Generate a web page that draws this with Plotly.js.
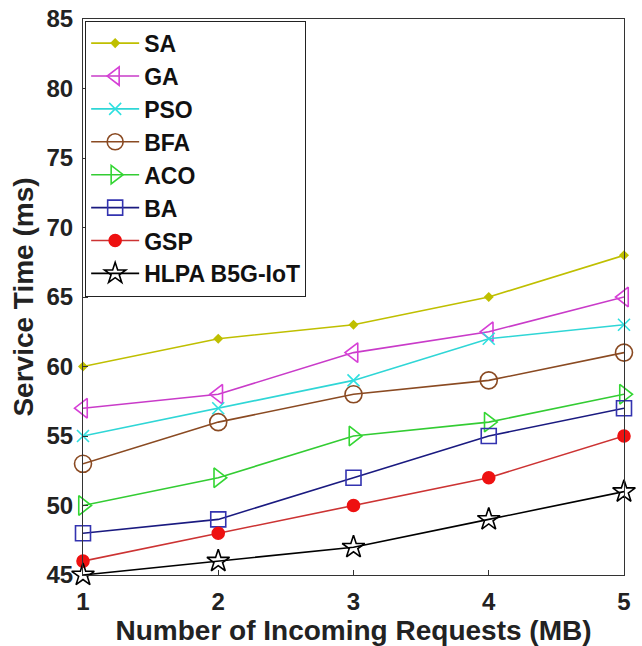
<!DOCTYPE html>
<html>
<head>
<meta charset="utf-8">
<script src="https://cdn.plot.ly/plotly-3.0.1.min.js"></script>
<style>
  html, body { margin: 0; padding: 0; background: #fff; }
  #chart { width: 642px; height: 646px; }
</style>
</head>
<body>
<div id="chart"></div>
<script>
// Incoming request sizes (MB)
const requests = [1, 2, 3, 4, 5];

// Service time (ms) per algorithm
const SA   = [60, 62, 63, 65, 68];
const GA   = [57, 58, 61, 62.5, 65];
const PSO  = [55, 57, 59, 62, 63];
const BFA  = [53, 56, 58, 59, 61];
const ACO  = [50, 52, 55, 56, 58];
const BA   = [48, 49, 52, 55, 57];
const GSP  = [46, 48, 50, 52, 55];
const HLPA = [45, 46, 47, 49, 51];

const seriesNames = ['SA', 'GA', 'PSO', 'BFA', 'ACO', 'BA', 'GSP', 'HLPA B5G-IoT'];
const seriesValues = [SA, GA, PSO, BFA, ACO, BA, GSP, HLPA];

const yTicks = [45, 50, 55, 60, 65, 70, 75, 80, 85];

const styles = [
  { color: '#bfbf00', symbol: 'diamond',            size: 6,  lineColor: '#bfbf00' },
  { color: '#d63fd6', symbol: 'triangle-left-open', size: 17, lineColor: '#c93bc9' },
  { color: '#2fe0e0', symbol: 'x-thin-open',        size: 12, lineColor: '#2fd6d6' },
  { color: '#8a4a22', symbol: 'circle-open',        size: 17, lineColor: '#8a4a22' },
  { color: '#33d633', symbol: 'triangle-right-open',size: 17, lineColor: '#33cc33' },
  { color: '#3333b0', symbol: 'square-open',        size: 15, lineColor: '#1a1a80' },
  { color: '#ee1111', symbol: 'circle',             size: 12, lineColor: '#cc3333' },
  { color: '#000000', symbol: 'star-open',          size: 17, lineColor: '#000000' }
];

const traces = seriesValues.map((vals, i) => ({
  type: 'scatter',
  mode: 'lines+markers',
  name: seriesNames[i],
  x: requests,
  y: vals,
  line: { color: styles[i].lineColor, width: 1.6 },
  marker: {
    symbol: styles[i].symbol,
    size: styles[i].size,
    color: styles[i].color,
    line: { color: styles[i].color, width: 1.6 }
  },
  cliponaxis: false
}));

const fontFamily = 'Arial, "Liberation Sans", Helvetica, sans-serif';

const layout = {
  width: 642,
  height: 646,
  margin: { l: 83, r: 18, t: 19, b: 71 },
  paper_bgcolor: '#ffffff',
  plot_bgcolor: '#ffffff',
  font: { family: fontFamily, color: '#222', size: 18 },
  showlegend: true,
  legend: {
    x: 0.004, y: 0.997, xanchor: 'left', yanchor: 'top',
    bgcolor: '#ffffff',
    bordercolor: '#222',
    borderwidth: 1,
    font: { family: fontFamily, size: 23, weight: 'bold', color: '#111' },
    tracegroupgap: 0,
    itemwidth: 48
  },
  xaxis: {
    range: [1, 5],
    tickvals: requests,
    ticks: 'inside',
    ticklen: 5,
    tickcolor: '#333',
    showgrid: false,
    zeroline: false,
    showline: true,
    linecolor: '#333',
    linewidth: 1,
    mirror: true,
    ticklabelstandoff: 5,
    tickfont: { family: fontFamily, size: 24, weight: 'bold', color: '#222' },
    title: {
      text: 'Number of Incoming Requests (MB)',
      font: { family: fontFamily, size: 28, weight: 'bold', color: '#222' },
      standoff: 1
    }
  },
  yaxis: {
    range: [45, 85],
    tickvals: yTicks,
    ticks: 'inside',
    ticklen: 5,
    tickcolor: '#333',
    showgrid: false,
    zeroline: false,
    showline: true,
    linecolor: '#333',
    linewidth: 1,
    mirror: true,
    ticklabelstandoff: 4,
    tickfont: { family: fontFamily, size: 24, weight: 'bold', color: '#222' },
    title: {
      text: 'Service Time (ms)',
      font: { family: fontFamily, size: 28, weight: 'bold', color: '#222' },
      standoff: 4
    }
  }
};

Plotly.newPlot('chart', traces, layout, { displayModeBar: false, staticPlot: true });
</script>
</body>
</html>
